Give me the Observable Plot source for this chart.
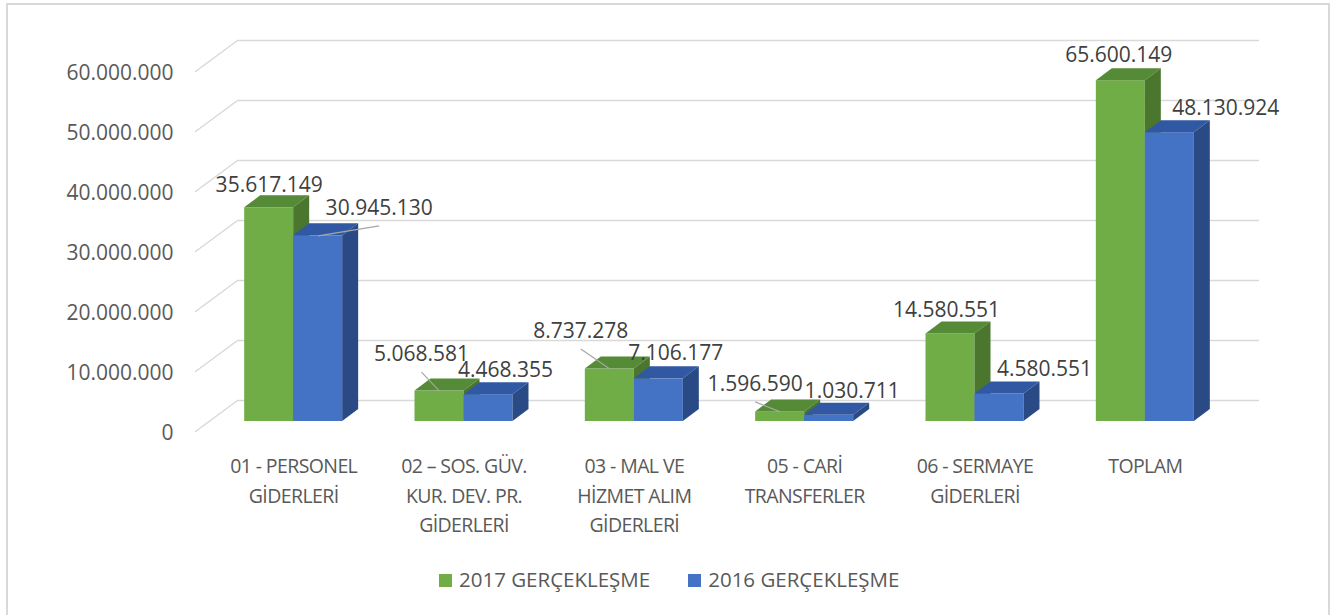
<!DOCTYPE html>
<html>
<head>
<meta charset="utf-8">
<script src="https://cdn.jsdelivr.net/npm/d3@7"></script>
<script src="https://cdn.jsdelivr.net/npm/@observablehq/plot@0.6"></script>
<style>
  html, body { margin: 0; padding: 0; background: #fff; }
  #wrap { position: relative; width: 1333px; height: 615px; overflow: hidden; font-family: "Open Sans", sans-serif; }
  #border { position: absolute; left: 6px; top: 3px; width: 1324px; height: 616px; border: 2px solid #d9d9d9; box-sizing: border-box; }
  #chart { position: absolute; left: 0; top: 0; }
  #legend { position: absolute; left: 439px; top: 565px; display: flex; align-items: center; font-size: 20.5px; color: #595959; }
  .item { display: flex; align-items: center; margin-right: 38px; }
  .sw { width: 13px; height: 13px; margin-right: 7px; margin-top: 3px; }
</style>
</head>
<body>
<div id="wrap">
  <div id="border"></div>
  <div id="chart"></div>
  <div id="legend"></div>
</div>
<script>
// ---------- data ----------
const categories = [
  "01 - PERSONEL\nGİDERLERİ",
  "02 – SOS. GÜV.\nKUR. DEV. PR.\nGİDERLERİ",
  "03 - MAL VE\nHİZMET ALIM\nGİDERLERİ",
  "05 - CARİ\nTRANSFERLER",
  "06 - SERMAYE\nGİDERLERİ",
  "TOPLAM"
];
const seriesNames = ["2017 GERÇEKLEŞME", "2016 GERÇEKLEŞME"];
// printed data labels
const labels2017 = [35617149, 5068581, 8737278, 1596590, 14580551, 65600149];
const labels2016 = [30945130, 4468355, 7106177, 1030711, 4580551, 48130924];
// bar heights as drawn in the picture (the TOPLAM 2017 bar is drawn at ~56.8M although labelled 65.600.149)
const bars2017 = [35617149, 5068581, 8737278, 1596590, 14580551, 56800000];
const bars2016 = [30945130, 4468355, 7106177, 1030711, 4580551, 48130924];
const yTicks = [0, 10000000, 20000000, 30000000, 40000000, 50000000, 60000000];

// ---------- layout / style ----------
const W = 1333, H = 555, mL = 208, mR = 103, mT = 61, mB = 134;
const colors = ["#70ad47", "#4472c4"];
const topColors = ["#558a36", "#3159a3"];
const sideColors = ["#4a772d", "#2a4a86"];
const kx = (W - mL - mR) / 6;          // px per category unit
const ky = (H - mT - mB) / 60000000;   // px per value unit
const px2x = p => p / kx;
const px2y = p => p / ky;
const barW = px2x(49);
const depthX = px2x(16), depthY = px2y(12);
// label nudges in pixels relative to the bar's front top centre [dx, dy], and whether a leader line is drawn
const nudge2017 = [[0, -23], [-18, -37], [-29, -38], [-25, -28], [-4, -24], [-2, -25]];
const nudge2016 = [[61, -28], [17, -24], [17, -26], [23, -24], [45, -25], [56, -24]];
const leader2017 = [false, true, true, true, false, false];
const leader2016 = [true, false, false, false, false, false];

const fmt = d3.formatLocale({decimal: ",", thousands: ".", grouping: [3]}).format(",");

// ---------- derived tables ----------
const bars = [];
[bars2017, bars2016].forEach((vals, s) => {
  vals.forEach((v, i) => {
    const x1 = i - barW + s * barW;
    bars.push({id: s * 10 + i, s, i, x1, x2: x1 + barW, v});
  });
});
const topPts = bars.flatMap(b => [
  {id: b.id, s: b.s, y: b.v, x1: b.x1, x2: b.x2},
  {id: b.id, s: b.s, y: b.v + depthY, x1: b.x1 + depthX, x2: b.x2 + depthX}
]);
const sidePts = bars.flatMap(b => [
  {id: b.id, s: b.s, x: b.x2, y1: 0, y2: b.v},
  {id: b.id, s: b.s, x: b.x2 + depthX, y1: depthY, y2: b.v + depthY}
]);

const wallFrontX = px2x(195 - (mL + kx * 0.5)), wallFrontY = -px2y(10);
const wallBackX = px2x(237 - (mL + kx * 0.5)), wallBackY = px2y(21);
const wallEndX = px2x(1258 - (mL + kx * 0.5));
const grid = yTicks.flatMap(t => [
  {t, x: wallFrontX, y: t + wallFrontY},
  {t, x: wallBackX, y: t + wallBackY},
  {t, x: wallEndX, y: t + wallBackY}
]);

const labelRows = [];
[[labels2017, bars2017, nudge2017, leader2017], [labels2016, bars2016, nudge2016, leader2016]].forEach(([labs, vals, nud, lead], s) => {
  labs.forEach((lab, i) => {
    const bx = i - barW / 2 + s * barW;
    const by = vals[i];
    const lx = bx + px2x(nud[i][0]);
    const ly = by - px2y(nud[i][1]);
    labelRows.push({s, i, text: fmt(lab), bx, by, lx, ly, lead: lead[i], ex: lx, ey: ly - px2y(18)});
  });
});

// ---------- marks ----------
const marks = [
  Plot.line(grid, {x: "x", y: "y", z: "t", stroke: "#d9d9d9", strokeWidth: 1.5}),
  Plot.axisY({ticks: yTicks, tickSize: 0, tickPadding: 35, dy: 12, tickFormat: fmt, fontSize: 21, fill: "#595959", label: null}),
  Plot.text(categories, {x: (d, i) => i, y: () => 0, text: d => d, lineAnchor: "top", dy: 31, lineHeight: 1.5, fontSize: 19.5, fill: "#595959"})
];
for (const s of [0, 1]) {
  marks.push(
    Plot.rect(bars.filter(b => b.s === s), {x1: "x1", x2: "x2", y1: () => 0, y2: "v", fill: colors[s]}),
    Plot.areaX(topPts.filter(p => p.s === s), {y: "y", x1: "x1", x2: "x2", z: "id", fill: topColors[s]}),
    Plot.areaY(sidePts.filter(p => p.s === s), {x: "x", y1: "y1", y2: "y2", z: "id", fill: sideColors[s]})
  );
}
marks.push(
  Plot.link(labelRows.filter(d => d.lead), {x1: "bx", y1: "by", x2: "ex", y2: "ey", stroke: "#a6a6a6", strokeWidth: 1.2}),
  Plot.text(labelRows, {x: "lx", y: "ly", text: "text", fontSize: 21, fill: "#404040"})
);

const chart = Plot.plot({
  width: W, height: H,
  marginLeft: mL, marginRight: mR, marginTop: mT, marginBottom: mB,
  x: {type: "linear", domain: [-0.5, 5.5], axis: null},
  y: {type: "linear", domain: [0, 60000000], axis: null},
  style: {fontFamily: "'Open Sans', sans-serif", background: "transparent", overflow: "visible"},
  marks
});
document.getElementById("chart").append(chart);

// letter spacing tweak for category labels
chart.querySelectorAll('g[aria-label="text"]').forEach((g, k) => {
  if (k === 0) g.style.letterSpacing = "-0.6px";
});

// legend
const lg = document.getElementById("legend");
seriesNames.forEach((n, s) => {
  const it = document.createElement("div");
  it.className = "item";
  it.innerHTML = `<div class="sw" style="background:${colors[s]}"></div><span>${n}</span>`;
  lg.append(it);
});
</script>
</body>
</html>
